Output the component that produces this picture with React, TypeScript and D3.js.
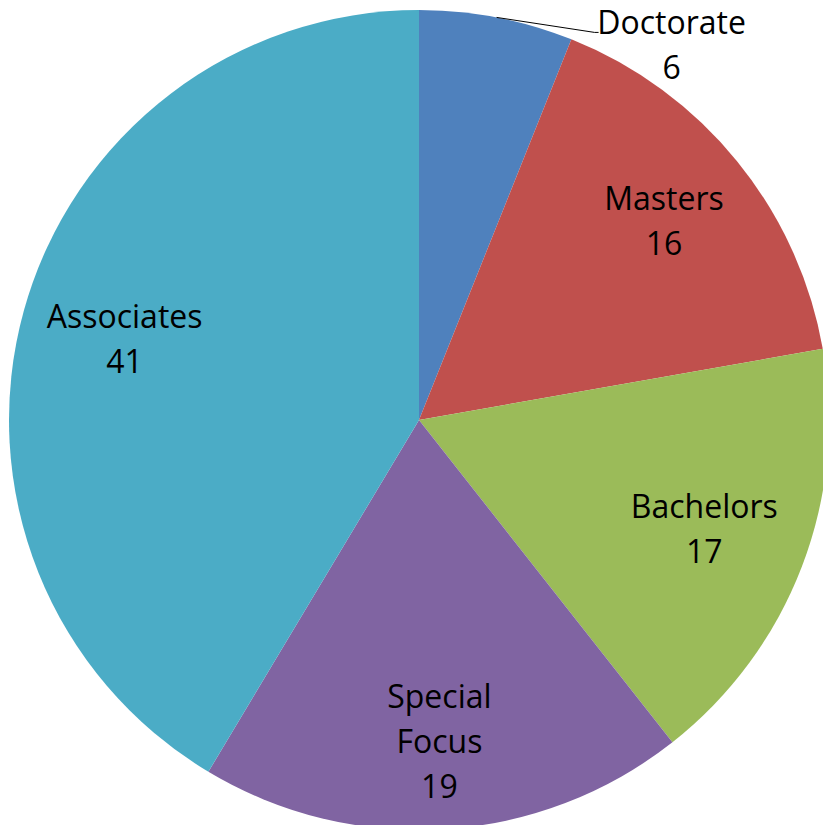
import React, { useEffect } from "react";
import * as d3 from "d3";

const categories = ["Doctorate", "Masters", "Bachelors", "Special Focus", "Associates"];
const values = [6, 16, 17, 19, 41];
const labelLines = [["Doctorate"], ["Masters"], ["Bachelors"], ["Special", "Focus"], ["Associates"]];
const colors = ["#4F81BD", "#C0504D", "#9BBB59", "#8064A2", "#4BACC6"];
const labelRadius = [1, 0.77, 0.745, 0.785, 0.745];

const W = 823;
const H = 825;
const CX = 419;
const CY = 420;
const R = 410;
const FONT = 32;
const LH = 45;
const CAP = 23;

export default function App() {
  useEffect(() => {
    document.body.style.margin = "0";
  }, []);

  const data = categories.map((c, i) => ({ cat: c, value: values[i], lines: [...labelLines[i], String(values[i])] }));
  const pie = d3.pie<any>().value((d: any) => d.value).sort(null).startAngle(0).endAngle(2 * Math.PI);
  const arcs = pie(data);
  const arc = d3.arc<any>().innerRadius(0).outerRadius(R);

  return (
    <svg width={W} height={H} style={{ display: "block" }}>
      <g transform={`translate(${CX},${CY})`}>
        {arcs.map((a, i) => (
          <path key={i} d={arc(a) as string} fill={colors[i]} />
        ))}
        {arcs.map((a, i) => {
          const mid = (a.startAngle + a.endAngle) / 2;
          const lines = a.data.lines as string[];
          if (i === 0) {
            const sx = R * Math.sin(mid);
            const sy = -R * Math.cos(mid);
            const ex = sx + 98;
            const ey = sy + 15;
            const tx = ex + 77;
            const firstBase = ey + 2;
            return (
              <g key={"l" + i}>
                <polyline
                  points={`${sx},${sy} ${ex},${ey} ${ex + 4},${ey}`}
                  fill="none"
                  stroke="#000"
                  strokeWidth={1}
                />
                {lines.map((t, j) => (
                  <text
                    key={j}
                    x={tx}
                    y={firstBase + j * LH}
                    textAnchor="middle"
                    fontFamily="'Open Sans', sans-serif"
                    fontSize={FONT}
                    fill="#000"
                  >
                    {t}
                  </text>
                ))}
              </g>
            );
          }
          const lr = R * labelRadius[i];
          const x = lr * Math.sin(mid);
          const y = -lr * Math.cos(mid);
          const firstBase = y - ((lines.length - 1) * LH) / 2 + CAP / 2;
          return (
            <g key={"l" + i}>
              {lines.map((t, j) => (
                <text
                  key={j}
                  x={x}
                  y={firstBase + j * LH}
                  textAnchor="middle"
                  fontFamily="'Open Sans', sans-serif"
                  fontSize={FONT}
                  fill="#000"
                >
                  {t}
                </text>
              ))}
            </g>
          );
        })}
      </g>
    </svg>
  );
}
